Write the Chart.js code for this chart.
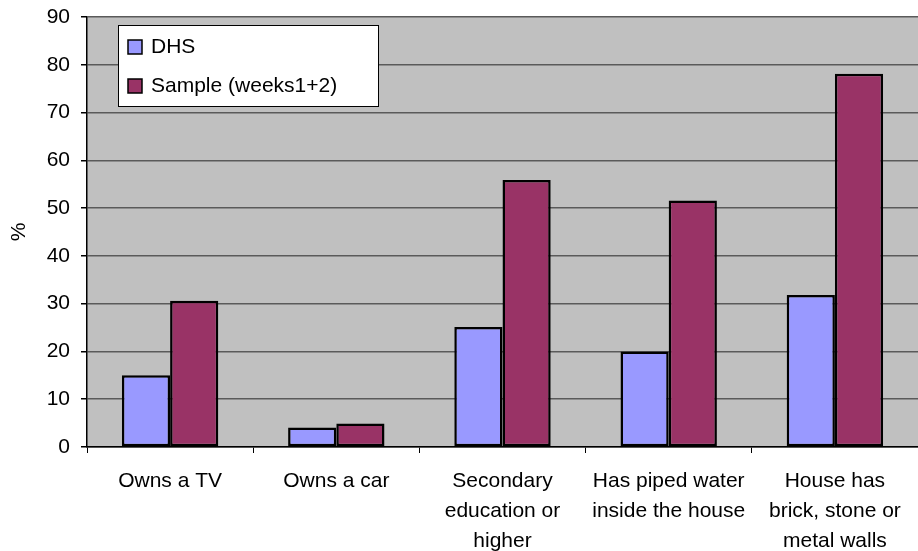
<!DOCTYPE html>
<html>
<head>
<meta charset="utf-8">
<script src="https://cdn.jsdelivr.net/npm/chart.js@4"></script>
<style>
  html, body { margin: 0; padding: 0; background: #fff; overflow: hidden; }
  #wrap { width: 918px; height: 551px; }
</style>
</head>
<body>
<div id="wrap"><canvas id="chart"></canvas></div>
<script>
const categories = [
  "Owns a TV",
  "Owns a car",
  ["Secondary", "education or", "higher"],
  ["Has piped water", "inside the house"],
  ["House has", "brick, stone or", "metal walls"]
];
const dhsValues = [15.0, 4.1, 25.1, 20.0, 31.8];
const sampleValues = [30.6, 4.9, 55.9, 51.6, 78.1];
const seriesNames = ["DHS", "Sample (weeks1+2)"];
const seriesColors = ["#9999ff", "#993366"];

const FONT = "'Liberation Sans', Arial, sans-serif";

// gray plot background
const plotBg = {
  id: "plotBg",
  beforeDraw(c) {
    const a = c.chartArea, g = c.ctx;
    g.save();
    g.fillStyle = "#c0c0c0";
    g.fillRect(a.left, a.top, a.right - a.left, a.bottom - a.top);
    g.restore();
  }
};

// legend box drawn inside the plot
const boxLegend = {
  id: "boxLegend",
  afterDraw(c) {
    const g = c.ctx;
    g.save();
    g.fillStyle = "#fff";
    g.fillRect(118, 25, 260, 81);
    g.strokeStyle = "#000";
    g.lineWidth = 1;
    g.strokeRect(118.5, 25.5, 260, 81);
    g.font = "21px " + FONT;
    g.textBaseline = "middle";
    c.data.datasets.forEach((ds, i) => {
      const y = 47 + i * 39;
      g.fillStyle = ds.backgroundColor;
      g.fillRect(128, y - 7, 14, 14);
      g.strokeStyle = "#000";
      g.lineWidth = 1.5;
      g.strokeRect(128, y - 7, 14, 14);
      g.fillStyle = "#000";
      g.fillText(ds.label, 151, y);
    });
    g.restore();
  }
};

new Chart(document.getElementById("chart"), {
  type: "bar",
  data: {
    labels: categories,
    datasets: [
      { label: seriesNames[0], data: dhsValues, backgroundColor: seriesColors[0] },
      { label: seriesNames[1], data: sampleValues, backgroundColor: seriesColors[1] }
    ]
  },
  options: {
    responsive: true,
    maintainAspectRatio: false,
    animation: false,
    layout: { padding: { top: 17, right: 0, left: 0, bottom: 0 } },
    datasets: {
      bar: {
        categoryPercentage: 0.58,
        barPercentage: 1,
        borderColor: "#000",
        borderWidth: 2.5,
        borderSkipped: false
      }
    },
    plugins: { legend: { display: false }, tooltip: { enabled: false } },
    scales: {
      x: {
        afterFit(s) { s.height = 104; s.paddingLeft = 0; s.paddingRight = 0; },
        grid: { offset: true, drawOnChartArea: false, color: "#000", tickLength: 6 },
        border: { color: "#000", width: 1.5 },
        ticks: { color: "#000", font: { family: FONT, size: 21, lineHeight: 1.43 }, padding: 13, maxRotation: 0, autoSkip: false }
      },
      y: {
        min: 0,
        max: 90,
        afterFit(s) { s.width = 87; s.paddingTop = 0; s.paddingBottom = 0; },
        grid: { color: "#5a5a5a", lineWidth: 1.5, tickLength: 6, tickColor: "#000" },
        border: { color: "#000", width: 1.5 },
        title: { display: true, text: "%", color: "#000", font: { family: FONT, size: 21 }, padding: { top: 7, bottom: 0 } },
        ticks: { stepSize: 10, color: "#000", font: { family: FONT, size: 21 }, padding: 11 }
      }
    }
  },
  plugins: [plotBg, boxLegend]
});
</script>
</body>
</html>
